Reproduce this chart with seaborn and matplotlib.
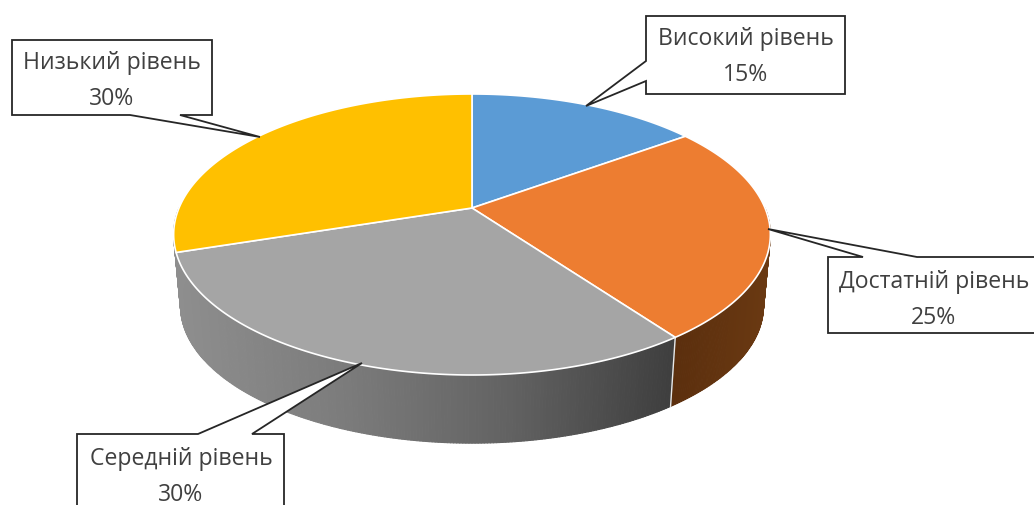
import numpy as np
import matplotlib
matplotlib.use("Agg")
import matplotlib.pyplot as plt
from matplotlib.collections import PolyCollection
from matplotlib.colors import LinearSegmentedColormap
import seaborn as sns

# дані діаграми
levels = ["Високий рівень", "Достатній рівень", "Середній рівень", "Низький рівень"]
shares = [15, 25, 30, 30]
colors = ["#5B9BD5", "#ED7D31", "#A5A5A5", "#FFC000"]

sns.set_theme(style="white")
plt.rcParams["font.family"] = ["Open Sans", "DejaVu Sans"]
palette = sns.color_palette(colors)

# перспектива круга (у пікселях картинки)
CX, CY = 472, 209
RX, RY = 293, 135.5
K = 0.1886
DEPTH = 72
SHRINK = 0.977


def project(deg, bottom=False):
    t = np.radians(deg)
    u, v = np.sin(t), np.cos(t)
    d = 1 + K * v
    x, y = RX * u / d, -RY * v / d
    if bottom:
        return CX + SHRINK * x, CY + DEPTH + SHRINK * y
    return CX + x, CY + y


fig = plt.figure(figsize=(10.34, 5.06), dpi=100)
ax = fig.add_axes([0, 0, 1, 1])
ax.set_xlim(0, 1034)
ax.set_ylim(506, 0)
ax.axis("off")

edges = np.cumsum([0] + shares) / sum(shares) * 360

# бічна стінка
gray_side = LinearSegmentedColormap.from_list("side", ["#8E8E8E", "#7C7C7C", "#636363", "#3F3F3F"], N=1024)
brown_side = LinearSegmentedColormap.from_list("brown", ["#5A2E0D", "#6A3912"], N=1024)
quads, quad_colors = [], []
for a in np.arange(90, 270, 0.5):
    x0, y0 = project(a)
    x1, y1 = project(a + 0.5)
    x2, y2 = project(a + 0.5, True)
    x3, y3 = project(a, True)
    quads.append([(x0, y0), (x1, y1), (x2, y2), (x3, y3)])
    if a < edges[2]:
        quad_colors.append(brown_side((x0 - 670) / 100))
    else:
        quad_colors.append(gray_side((x0 - 175) / 497))
ax.add_collection(PolyCollection(quads, facecolors=quad_colors, edgecolors="face", linewidths=0.8, zorder=1))

# світла лінія між секторами на стінці
sx0, sy0 = project(edges[2])
sx1, sy1 = project(edges[2], True)
ax.plot([sx0, sx1], [sy0, sy1], color="#E8E8E8", lw=1, zorder=2)

# верхня грань
for start, stop, c in zip(edges[:-1], edges[1:], palette):
    a = np.linspace(start, stop, 200)
    x, y = project(a)
    ax.fill(np.r_[CX, x], np.r_[CY, y], facecolor=c, edgecolor="white", lw=1.2, zorder=3)

# підписи-виноски: рамка, основа хвоста, вістря
callouts = [
    {"box": (646, 17, 845, 95), "tail": [(646, 62), (586, 107), (646, 82)], "text": (746, 57)},
    {"box": (828, 258, 1040, 334), "tail": [(863, 258), (768, 230), (917, 258)], "text": (934, 300)},
    {"box": (77, 435, 284, 530), "tail": [(252, 435), (362, 364), (198, 435)], "text": (181, 477)},
    {"box": (12, 41, 212, 116), "tail": [(180, 116), (260, 138), (130, 116)], "text": (112, 81)},
]
for name, share, co in zip(levels, shares, callouts):
    x0, y0, x1, y1 = co["box"]
    t0, tip, t1 = co["tail"]
    if t0[0] == x0:  # хвіст зліва
        pts = [(x0, y0), (x1, y0), (x1, y1), (x0, y1), t1, tip, t0]
    elif t0[1] == y0:  # хвіст зверху
        pts = [(x0, y0), t0, tip, t1, (x1, y0), (x1, y1), (x0, y1)]
        if t0[0] > t1[0]:
            pts = [(x0, y0), t1, tip, t0, (x1, y0), (x1, y1), (x0, y1)]
    else:  # хвіст знизу
        pts = [(x0, y0), (x1, y0), (x1, y1), t0, tip, t1, (x0, y1)]
    ax.fill(*zip(*pts), facecolor="white", edgecolor="#262626", lw=1.3, joinstyle="miter", zorder=5)
    ax.text(co["text"][0], co["text"][1], f"{name}\n{share}%", ha="center", va="center",
            fontsize=16.6, color="#404040", linespacing=1.62, zorder=6)

fig.savefig("out.png", dpi=100)
